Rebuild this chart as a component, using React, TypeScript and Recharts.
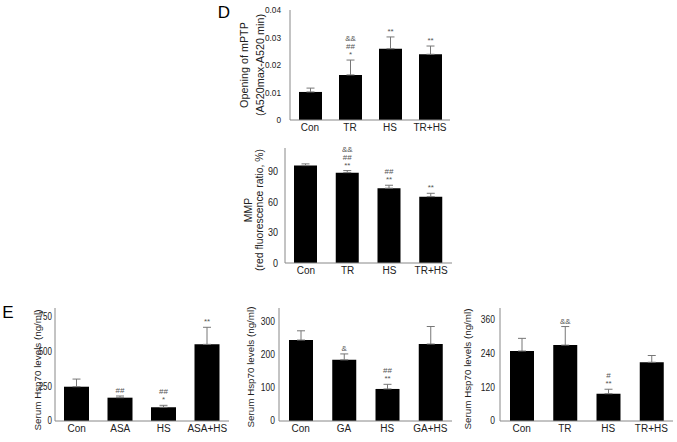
import React from 'react';
import { BarChart, Bar, XAxis, YAxis, ErrorBar } from 'recharts';

// panel D top: mPTP opening
const mptpCats = ['Con', 'TR', 'HS', 'TR+HS'];
const mptpVals = [0.0102, 0.0164, 0.0259, 0.0239];
const mptpErr = [0.0014, 0.0054, 0.0043, 0.003];
const mptpMarks = [[], ['&&', '##', '*'], ['**'], ['**']];
const mptpTicks = [0, 0.01, 0.02, 0.03, 0.04];

// panel D bottom: MMP
const mmpCats = ['Con', 'TR', 'HS', 'TR+HS'];
const mmpVals = [95.7, 88.8, 73.5, 65.2];
const mmpErr = [1.7, 2.0, 2.9, 3.3];
const mmpMarks = [[], ['&&', '##', '**'], ['##', '**'], ['**']];
const mmpTicks = [0, 30, 60, 90];

// panel E: serum Hsp70
const asaCats = ['Con', 'ASA', 'HS', 'ASA+HS'];
const asaVals = [247, 168, 99, 552];
const asaErr = [55, 12, 14, 123];
const asaMarks = [[], ['##'], ['##', '*'], ['**']];
const asaTicks = [0, 250, 500, 750];

const gaCats = ['Con', 'GA', 'HS', 'GA+HS'];
const gaVals = [245, 185, 97, 233];
const gaErr = [28, 18, 14, 53];
const gaMarks = [[], ['&'], ['##', '**'], []];
const gaTicks = [0, 100, 200, 300];

const trCats = ['Con', 'TR', 'HS', 'TR+HS'];
const trVals = [249, 270, 97, 209];
const trErr = [45, 66, 16, 24];
const trMarks = [[], ['&&'], ['#', '**'], []];
const trTicks = [0, 120, 240, 360];

const FONT = '"Liberation Sans", Arial, sans-serif';

function build(cats: string[], vals: number[], errs: number[]) {
  return cats.map((c, i) => ({ name: c, v: vals[i], e: [0, errs[i]] }));
}

type PanelProps = {
  cats: string[];
  vals: number[];
  errs: number[];
  marks: string[][];
  ticks: number[];
  top: number;
  left: number;
  width: number;
  height: number;
  yAxisWidth: number;
  margin: { top: number; right: number; bottom: number; left: number };
  xAxisHeight: number;
  max: number;
  barSize: number;
  gap: number; // space between tick text and axis
  yFont: number;
  ySx: number;
  fmt?: (v: number) => string;
};

function Panel(p: PanelProps) {
  const data = build(p.cats, p.vals, p.errs);
  const fmt = p.fmt || ((v: number) => String(v));

  const renderMarks = (props: any) => {
    const { x, y, width, height, index } = props;
    const lines = p.marks[index] || [];
    if (!lines.length) return null;
    const v = p.vals[index];
    const errTop = y - (p.errs[index] * height) / v;
    const cx = x + width / 2;
    return (
      <g>
        {lines.map((t, i) => (
          <text
            key={i}
            x={cx}
            y={errTop - 3 - (lines.length - 1 - i) * 8}
            textAnchor="middle"
            fontSize={8}
            fill="#555"
            fontFamily={FONT}
          >
            {t}
          </text>
        ))}
      </g>
    );
  };

  const yTick = (props: any) => {
    const { y, payload } = props;
    const ax = p.yAxisWidth - p.gap;
    return (
      <text
        transform={`translate(${ax},${y}) scale(${p.ySx},1)`}
        textAnchor="end"
        dominantBaseline="central"
        fontSize={p.yFont}
        fill="#222"
        fontFamily={FONT}
      >
        {fmt(payload.value)}
      </text>
    );
  };

  return (
    <div style={{ position: 'absolute', left: p.left, top: p.top }}>
      <BarChart width={p.width} height={p.height} data={data} margin={p.margin} barSize={p.barSize}>
        <XAxis
          dataKey="name"
          tickLine={false}
          tickSize={0}
          tickMargin={4}
          height={p.xAxisHeight}
          stroke="#888"
          tick={{ fill: '#222', fontSize: 10, fontFamily: FONT }}
        />
        <YAxis
          width={p.yAxisWidth}
          domain={[0, p.max]}
          ticks={p.ticks}
          tickLine={false}
          tickSize={0}
          stroke="#888"
          allowDataOverflow
          tick={yTick}
        />
        <Bar dataKey="v" fill="#000" isAnimationActive={false} label={renderMarks}>
          <ErrorBar dataKey="e" width={4} stroke="#777" strokeWidth={1} direction="y" />
        </Bar>
      </BarChart>
    </div>
  );
}

export default function App() {
  return (
    <div style={{ position: 'absolute', left: 0, top: 0, width: 677, height: 442, background: '#fff', fontFamily: FONT }}>
      <Panel
        cats={mptpCats} vals={mptpVals} errs={mptpErr} marks={mptpMarks} ticks={mptpTicks}
        left={180} top={0} width={280} height={145} yAxisWidth={110}
        margin={{ top: 10, right: 10, bottom: 0, left: 0 }} xAxisHeight={25} max={0.04} barSize={23}
        gap={9} yFont={9} ySx={0.92}
        fmt={(v) => (v === 0 ? '0' : v.toFixed(2))}
      />
      <Panel
        cats={mmpCats} vals={mmpVals} errs={mmpErr} marks={mmpMarks} ticks={mmpTicks}
        left={180} top={140} width={280} height={150} yAxisWidth={105}
        margin={{ top: 8, right: 8, bottom: 2, left: 0 }} xAxisHeight={25} max={113} barSize={23}
        gap={7} yFont={10} ySx={0.9}
      />
      <Panel
        cats={asaCats} vals={asaVals} errs={asaErr} marks={asaMarks} ticks={asaTicks}
        left={0} top={290} width={235} height={152} yAxisWidth={55}
        margin={{ top: 18, right: 6, bottom: 0, left: 0 }} xAxisHeight={21} max={814} barSize={25}
        gap={3} yFont={10} ySx={0.8}
      />
      <Panel
        cats={gaCats} vals={gaVals} errs={gaErr} marks={gaMarks} ticks={gaTicks}
        left={225} top={290} width={235} height={152} yAxisWidth={54}
        margin={{ top: 18, right: 8, bottom: 0, left: 0 }} xAxisHeight={21} max={342} barSize={24}
        gap={4} yFont={10} ySx={0.85}
      />
      <Panel
        cats={trCats} vals={trVals} errs={trErr} marks={trMarks} ticks={trTicks}
        left={450} top={290} width={227} height={152} yAxisWidth={50}
        margin={{ top: 18, right: 4, bottom: 0, left: 0 }} xAxisHeight={21} max={402} barSize={24}
        gap={5} yFont={10} ySx={0.85}
      />
      <svg width={677} height={442} style={{ position: 'absolute', left: 0, top: 0, pointerEvents: 'none' }}>
        <g fontFamily={FONT} fill="#222" textAnchor="middle" dominantBaseline="central">
          <text x={224} y={12} fontSize={17} fill="#000">D</text>
          <text x={8} y={312} fontSize={17} fill="#000">E</text>
          <g fontSize={10.8}>
            <text transform="translate(244,65) rotate(-90)">Opening of mPTP</text>
            <text transform="translate(259.5,65) rotate(-90)">(A520max-A520 min)</text>
          </g>
          <g fontSize={10.4}>
            <text transform="translate(248,210) rotate(-90)">MMP</text>
            <text transform="translate(259,210) rotate(-90)">(red fluorescence ratio, %)</text>
          </g>
          <g fontSize={9.8}>
            <text transform="translate(37,370) rotate(-90)">Serum Hsp70 levels (ng/ml)</text>
            <text transform="translate(250,367) rotate(-90)">Serum Hsp70 levels (ng/ml)</text>
            <text transform="translate(467,369) rotate(-90)">Serum Hsp70 levels (ng/ml)</text>
          </g>
        </g>
      </svg>
    </div>
  );
}
